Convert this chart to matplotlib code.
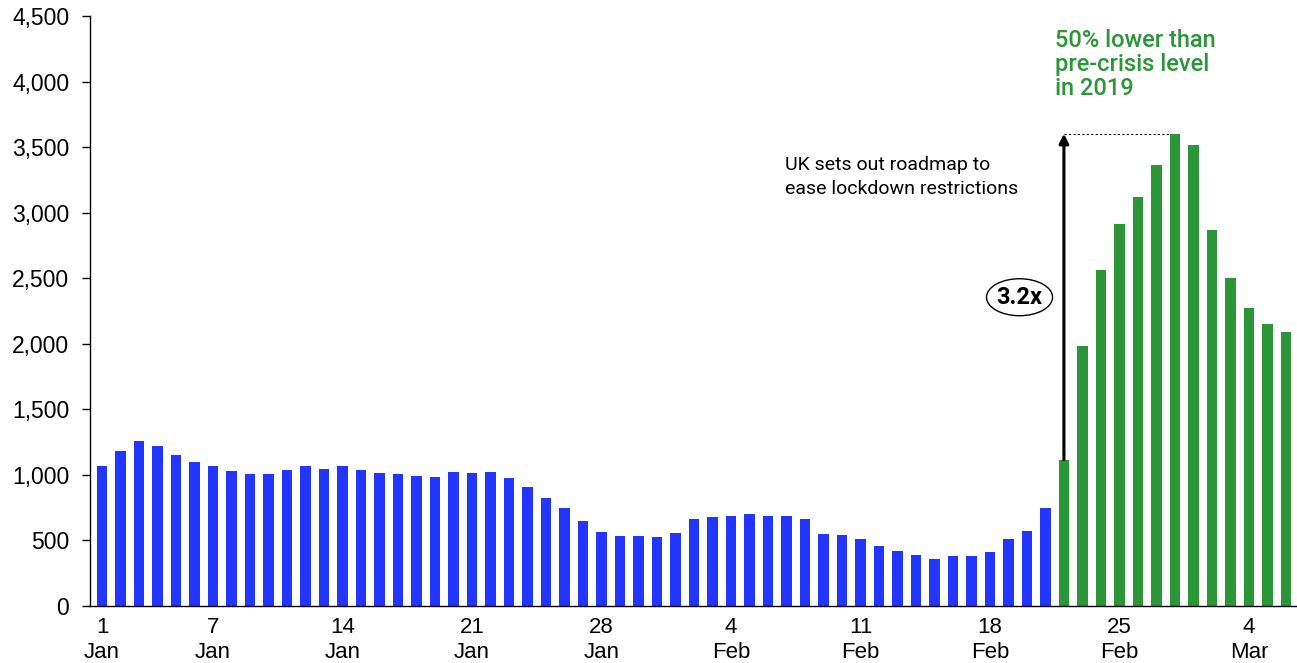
import matplotlib.pyplot as plt
from matplotlib.patches import Ellipse
import numpy as np

# daily values, 1 Jan - 21 Feb (blue) and 22 Feb - 6 Mar (green)
blue_vals = [1071, 1186, 1258, 1222, 1150, 1099, 1071, 1031, 1003, 1003,
             1038, 1071, 1048, 1066, 1038, 1013, 1010, 995, 985, 1020,
             1013, 1020, 974, 906, 827, 747, 650, 561, 536, 536,
             528, 554, 661, 676, 686, 704, 686, 686, 661, 546,
             538, 510, 457, 421, 388, 360, 378, 378, 413, 510,
             571, 747]
green_vals = [1116, 1981, 2563, 2915, 3119, 3364, 3602, 3515, 2864, 2502,
              2272, 2149, 2088]

tick_days = [0, 6, 13, 20, 27, 34, 41, 48, 55, 62]
tick_labels = ['1\nJan', '7\nJan', '14\nJan', '21\nJan', '28\nJan',
               '4\nFeb', '11\nFeb', '18\nFeb', '25\nFeb', '4\nMar']

blue_c = '#2236ff'
green_c = '#2a9637'

plt.rcParams['font.family'] = ['Liberation Sans', 'DejaVu Sans']

fig = plt.figure(figsize=(12.97, 6.63), dpi=100)
ax = fig.add_axes([90 / 1297, 57 / 663, 1207 / 1297, 590 / 663])

xb = np.arange(len(blue_vals))
xg = np.arange(len(blue_vals), len(blue_vals) + len(green_vals))
ax.bar(xb, blue_vals, width=0.57, color=blue_c)
ax.bar(xg, green_vals, width=0.57, color=green_c)

ax.set_xlim(-0.65, 64.6)
ax.set_ylim(0, 4500)
ax.set_yticks(np.arange(0, 4501, 500))
ax.set_yticklabels([f'{v:,}' for v in range(0, 4501, 500)])
ax.set_xticks(tick_days)
ax.set_xticklabels(tick_labels, linespacing=1.25)

for s in ['top', 'right']:
    ax.spines[s].set_visible(False)
ax.spines['left'].set_linewidth(1)
ax.spines['bottom'].set_linewidth(1)
ax.tick_params(axis='y', labelsize=16.5, length=6, width=1, pad=9)
ax.tick_params(axis='x', labelsize=16, length=0, pad=8)

# arrow from first green bar up to the peak
i0 = len(blue_vals)
peak = max(green_vals)
ipk = i0 + green_vals.index(peak)
ax.annotate('', xy=(i0, peak), xytext=(i0, green_vals[0]),
            arrowprops=dict(arrowstyle='-|>', color='black', lw=2.2,
                            mutation_scale=14, shrinkA=0, shrinkB=0))
ax.plot([i0, ipk - 0.28], [peak, peak], color='black', lw=0.8,
        linestyle=(0, (2, 2)))

ax.add_patch(Ellipse((49.6, 2355), 3.57, 282, facecolor='white',
                     edgecolor='black', lw=1))
ax.text(49.6, 2355, '3.2x', ha='center', va='center', fontsize=17,
        fontweight='bold', family=['Roboto', 'DejaVu Sans'])

ax.text(36.9, 3270, 'UK sets out roadmap to\nease lockdown restrictions',
        ha='left', va='center', fontsize=14, linespacing=1.4,
        family=['Roboto', 'DejaVu Sans'])
ax.text(51.5, 4400, '50% lower than\npre-crisis level\nin 2019',
        ha='left', va='top', fontsize=17, color=green_c, linespacing=1.05,
        family=['Roboto', 'DejaVu Sans'], fontweight='medium')

fig.savefig('out.png', dpi=100)
